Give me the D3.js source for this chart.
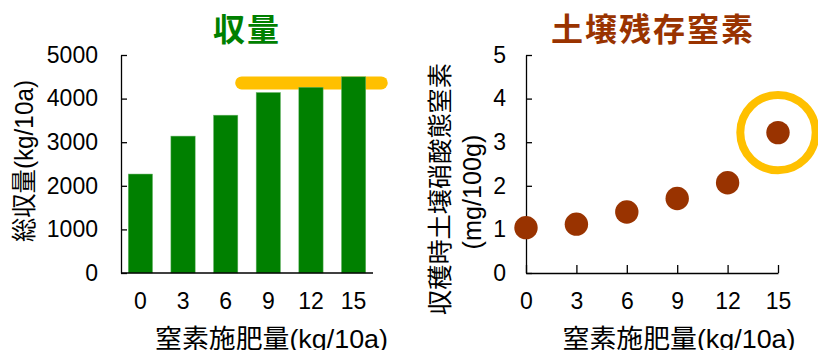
<!DOCTYPE html>
<html>
<head>
<meta charset="utf-8">
<script src="https://cdn.jsdelivr.net/npm/d3@7"></script>
<style>
  body { margin: 0; background: #fff; }
  svg { display: block; font-family: "Liberation Sans", "Noto Sans CJK JP", sans-serif; }
  .axis path, .axis line { stroke: #000; stroke-width: 1.3; }
  .axis text { font-size: 23px; fill: #000; font-family: "Liberation Sans", Arial, sans-serif; }
  .title { font-weight: bold; font-size: 32px; font-family: "Noto Sans CJK JP", sans-serif; }
  .lab { font-size: 25px; fill: #000; }
</style>
</head>
<body>
<svg id="chart" width="818" height="350"></svg>
<script>
// data
var rates = [0, 3, 6, 9, 12, 15];            // 窒素施肥量 kg/10a
var yieldVals = [2270, 3140, 3620, 4140, 4260, 4500]; // 総収量 kg/10a
var soilN = [1.04, 1.12, 1.40, 1.71, 2.07, 3.22];     // 収穫時土壌硝酸態窒素 mg/100g
var yieldTicks = [0, 1000, 2000, 3000, 4000, 5000];
var soilTicks = [0, 1, 2, 3, 4, 5];
var highlightYield = 4360;   // orange band level
var highlightFrom = 9;       // band starts at this rate

var svg = d3.select("#chart");
var green = "#008000", brown = "#993300", gold = "#FFC000";

// ---------- left: 収量 ----------
var x1 = d3.scaleBand().domain(rates).range([121, 373]).paddingInner(0.43).paddingOuter(0.17);
var y1 = d3.scaleLinear().domain([0, 5000]).range([273, 55]);

// highlight band behind the bars
svg.append("rect")
  .attr("x", x1(highlightFrom) - 21)
  .attr("y", y1(highlightYield) - 6.5)
  .attr("width", x1(15) + x1.bandwidth() + 22 - (x1(highlightFrom) - 21))
  .attr("height", 13)
  .attr("rx", 6.5)
  .attr("fill", gold);

svg.append("g").selectAll("rect").data(rates).join("rect")
  .attr("x", function(d) { return x1(d); })
  .attr("y", function(d, i) { return y1(yieldVals[i]); })
  .attr("width", x1.bandwidth())
  .attr("height", function(d, i) { return y1(0) - y1(yieldVals[i]); })
  .attr("fill", green)
  .attr("stroke", "#6fb86f").attr("stroke-width", 0.5);

svg.append("g").attr("class", "axis")
  .attr("transform", "translate(121,0)")
  .call(d3.axisLeft(y1).tickValues(yieldTicks).tickFormat(d3.format("d"))
    .tickSizeInner(-6).tickSizeOuter(0).tickPadding(23));

var xa1 = svg.append("g").attr("class", "axis")
  .attr("transform", "translate(0,273)")
  .call(d3.axisBottom(x1).tickSize(0).tickPadding(20));
xa1.select(".domain").attr("d", "M121,0H373");

svg.append("text").attr("class", "title")
  .attr("x", 247).attr("y", 41).attr("text-anchor", "middle")
  .attr("fill", green).attr("letter-spacing", 2)
  .text("収量");

// rotated labels: lengths fitted to the reference
function vlabel(cx, cy, len, txt) {
  svg.append("text").attr("class", "lab")
    .attr("transform", "translate(" + cx + "," + cy + ") rotate(-90)")
    .attr("text-anchor", "middle").attr("dominant-baseline", "central")
    .attr("textLength", len).attr("lengthAdjust", "spacingAndGlyphs")
    .text(txt);
}
function xlabel(cx, txt) {
  svg.append("text").attr("class", "lab")
    .attr("x", cx).attr("y", 348).attr("text-anchor", "middle")
    .style("font-size", "26px")
    .attr("textLength", 233).attr("lengthAdjust", "spacingAndGlyphs")
    .text(txt);
}

vlabel(24, 161, 162, "総収量(kg/10a)");
xlabel(271.5, "窒素施肥量(kg/10a)");

// ---------- right: 土壌残存窒素 ----------
var x2 = d3.scaleLinear().domain([0, 15]).range([526, 778]);
var y2 = d3.scaleLinear().domain([0, 5]).range([273, 55]);

svg.append("g").attr("class", "axis")
  .attr("transform", "translate(526,0)")
  .call(d3.axisLeft(y2).tickValues(soilTicks).tickFormat(d3.format("d"))
    .tickSizeInner(-6).tickSizeOuter(0).tickPadding(20));

svg.append("g").attr("class", "axis")
  .attr("transform", "translate(0,273)")
  .call(d3.axisBottom(x2).tickValues(rates).tickFormat(d3.format("d"))
    .tickSizeInner(-8).tickSizeOuter(0).tickPadding(20));

svg.append("g").selectAll("circle").data(rates).join("circle")
  .attr("cx", function(d) { return x2(d); })
  .attr("cy", function(d, i) { return y2(soilN[i]); })
  .attr("r", 11.7)
  .attr("fill", brown);

var last = rates.length - 1;
svg.append("circle")
  .attr("cx", x2(rates[last])).attr("cy", y2(soilN[last]))
  .attr("r", 37.7).attr("fill", "none")
  .attr("stroke", gold).attr("stroke-width", 8);

svg.append("text").attr("class", "title")
  .attr("x", 653).attr("y", 41).attr("text-anchor", "middle")
  .attr("fill", brown).attr("letter-spacing", 2)
  .text("土壌残存窒素");

vlabel(440, 189, 252, "収穫時土壌硝酸態窒素");
vlabel(472, 192, 115, "(mg/100g)");
xlabel(679, "窒素施肥量(kg/10a)");
</script>
</body>
</html>
